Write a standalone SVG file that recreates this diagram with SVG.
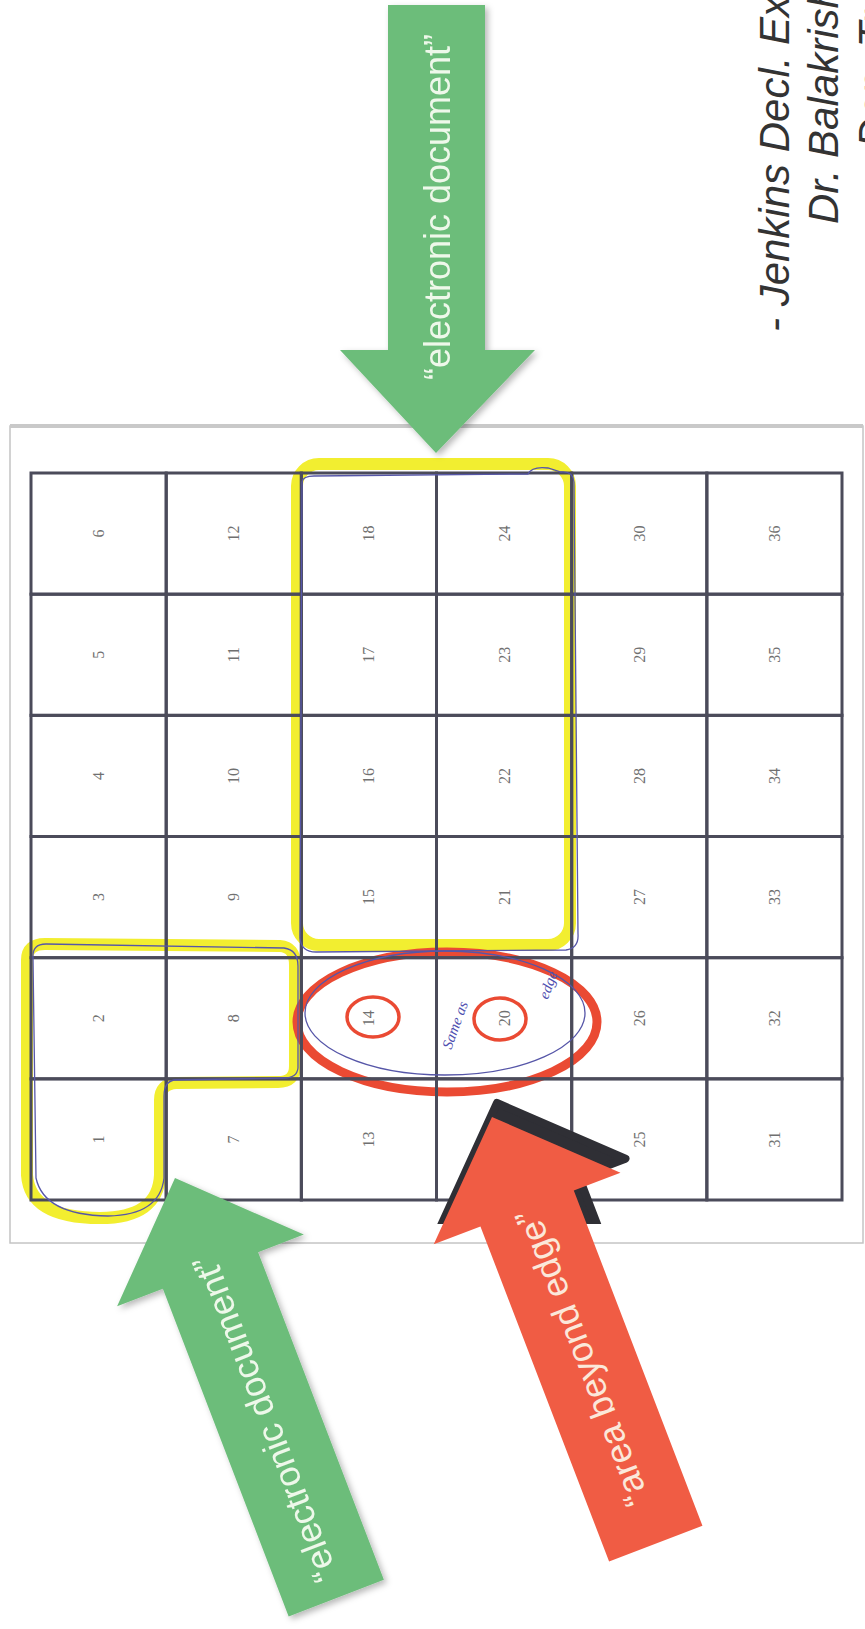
<svg xmlns="http://www.w3.org/2000/svg" width="865" height="1629" viewBox="0 0 865 1629">
<defs>
<style>
.cell{fill:none;stroke:#4b4b5a;stroke-width:3}
.num{font-family:"Liberation Serif",serif;font-size:16px;fill:#707070;text-anchor:middle}
.lbl{font-family:"Liberation Sans",Arial,sans-serif;font-size:36px;text-anchor:middle}
.hl{fill:none;stroke:#f2ee30;stroke-width:12;stroke-linejoin:round;stroke-linecap:round}
.pen{fill:none;stroke:#5656a8;stroke-width:1.3}
.ring{fill:none;stroke:#ea4a33}
.cite{font-family:"Liberation Sans",Arial,sans-serif;font-style:italic;font-size:42px;fill:#333}
.hand{font-family:"Liberation Serif",serif;font-style:italic;font-size:15px;fill:#4f4fb0;text-anchor:middle}
.green{fill:#6cbd7a}
.redA{fill:#f05c44}
</style>
<filter id="sh" x="-20%" y="-20%" width="140%" height="140%">
<feDropShadow dx="3" dy="3" stdDeviation="3" flood-color="#000" flood-opacity="0.28"/>
</filter>
<clipPath id="shClip"><rect x="0" y="0" width="865" height="1224"/></clipPath>
<path id="arrowG" d="M0,0 L100,99 L51,99 L51,450 L-51,450 L-51,99 L-100,99 Z"/>
<path id="arrowR" d="M0,0 L100,98 L50,98 L50,457 L-50,457 L-50,98 L-100,98 Z"/>
</defs>

<rect id="paper" x="10" y="426" width="853" height="817" fill="#fff" stroke="#c4c4c4" stroke-width="1.5"/>
<line x1="10" y1="426" x2="863" y2="426" stroke="#c9c9c9" stroke-width="4"/>

<g id="highlight-yellow-top">
<rect class="hl" x="297" y="464" width="273" height="481" rx="22"/>
</g>
<g id="highlight-yellow-L">
<path class="hl" d="M27,960 Q27,944 45,944 L280,946 Q295,947 295,965 L295,1066 Q295,1082 278,1082 L176,1083 Q160,1084 160,1100 L160,1175 Q158,1218 100,1218 Q30,1218 27,1175 Z"/>
</g>
<g id="ellipse-red">
<ellipse class="ring" cx="447" cy="1022" rx="150" ry="70" stroke-width="9"/>
</g>

<g id="grid">
<g id="c6"><rect class="cell" x="31" y="473" width="135.2" height="121.2"/><text class="num" x="98.6" y="539.1" transform="rotate(-90 98.6 533.6)">6</text></g>
<g id="c5"><rect class="cell" x="31" y="594.2" width="135.2" height="121.2"/><text class="num" x="98.6" y="660.3" transform="rotate(-90 98.6 654.8)">5</text></g>
<g id="c4"><rect class="cell" x="31" y="715.3" width="135.2" height="121.2"/><text class="num" x="98.6" y="781.4" transform="rotate(-90 98.6 775.9)">4</text></g>
<g id="c3"><rect class="cell" x="31" y="836.5" width="135.2" height="121.2"/><text class="num" x="98.6" y="902.6" transform="rotate(-90 98.6 897.1)">3</text></g>
<g id="c2"><rect class="cell" x="31" y="957.7" width="135.2" height="121.2"/><text class="num" x="98.6" y="1023.8" transform="rotate(-90 98.6 1018.3)">2</text></g>
<g id="c1"><rect class="cell" x="31" y="1078.8" width="135.2" height="121.2"/><text class="num" x="98.6" y="1144.9" transform="rotate(-90 98.6 1139.4)">1</text></g>

<g id="c12"><rect class="cell" x="166.2" y="473" width="135.2" height="121.2"/><text class="num" x="233.8" y="539.1" transform="rotate(-90 233.8 533.6)">12</text></g>
<g id="c11"><rect class="cell" x="166.2" y="594.2" width="135.2" height="121.2"/><text class="num" x="233.8" y="660.3" transform="rotate(-90 233.8 654.8)">11</text></g>
<g id="c10"><rect class="cell" x="166.2" y="715.3" width="135.2" height="121.2"/><text class="num" x="233.8" y="781.4" transform="rotate(-90 233.8 775.9)">10</text></g>
<g id="c9"><rect class="cell" x="166.2" y="836.5" width="135.2" height="121.2"/><text class="num" x="233.8" y="902.6" transform="rotate(-90 233.8 897.1)">9</text></g>
<g id="c8"><rect class="cell" x="166.2" y="957.7" width="135.2" height="121.2"/><text class="num" x="233.8" y="1023.8" transform="rotate(-90 233.8 1018.3)">8</text></g>
<g id="c7"><rect class="cell" x="166.2" y="1078.8" width="135.2" height="121.2"/><text class="num" x="233.8" y="1144.9" transform="rotate(-90 233.8 1139.4)">7</text></g>

<g id="c18"><rect class="cell" x="301.3" y="473" width="135.2" height="121.2"/><text class="num" x="368.9" y="539.1" transform="rotate(-90 368.9 533.6)">18</text></g>
<g id="c17"><rect class="cell" x="301.3" y="594.2" width="135.2" height="121.2"/><text class="num" x="368.9" y="660.3" transform="rotate(-90 368.9 654.8)">17</text></g>
<g id="c16"><rect class="cell" x="301.3" y="715.3" width="135.2" height="121.2"/><text class="num" x="368.9" y="781.4" transform="rotate(-90 368.9 775.9)">16</text></g>
<g id="c15"><rect class="cell" x="301.3" y="836.5" width="135.2" height="121.2"/><text class="num" x="368.9" y="902.6" transform="rotate(-90 368.9 897.1)">15</text></g>
<g id="c14"><rect class="cell" x="301.3" y="957.7" width="135.2" height="121.2"/><text class="num" x="368.9" y="1023.8" transform="rotate(-90 368.9 1018.3)">14</text></g>
<g id="c13"><rect class="cell" x="301.3" y="1078.8" width="135.2" height="121.2"/><text class="num" x="368.9" y="1144.9" transform="rotate(-90 368.9 1139.4)">13</text></g>

<g id="c24"><rect class="cell" x="436.5" y="473" width="135.2" height="121.2"/><text class="num" x="504.1" y="539.1" transform="rotate(-90 504.1 533.6)">24</text></g>
<g id="c23"><rect class="cell" x="436.5" y="594.2" width="135.2" height="121.2"/><text class="num" x="504.1" y="660.3" transform="rotate(-90 504.1 654.8)">23</text></g>
<g id="c22"><rect class="cell" x="436.5" y="715.3" width="135.2" height="121.2"/><text class="num" x="504.1" y="781.4" transform="rotate(-90 504.1 775.9)">22</text></g>
<g id="c21"><rect class="cell" x="436.5" y="836.5" width="135.2" height="121.2"/><text class="num" x="504.1" y="902.6" transform="rotate(-90 504.1 897.1)">21</text></g>
<g id="c20"><rect class="cell" x="436.5" y="957.7" width="135.2" height="121.2"/><text class="num" x="504.1" y="1023.8" transform="rotate(-90 504.1 1018.3)">20</text></g>
<g id="c19"><rect class="cell" x="436.5" y="1078.8" width="135.2" height="121.2"/></g>

<g id="c30"><rect class="cell" x="571.7" y="473" width="135.2" height="121.2"/><text class="num" x="639.3" y="539.1" transform="rotate(-90 639.3 533.6)">30</text></g>
<g id="c29"><rect class="cell" x="571.7" y="594.2" width="135.2" height="121.2"/><text class="num" x="639.3" y="660.3" transform="rotate(-90 639.3 654.8)">29</text></g>
<g id="c28"><rect class="cell" x="571.7" y="715.3" width="135.2" height="121.2"/><text class="num" x="639.3" y="781.4" transform="rotate(-90 639.3 775.9)">28</text></g>
<g id="c27"><rect class="cell" x="571.7" y="836.5" width="135.2" height="121.2"/><text class="num" x="639.3" y="902.6" transform="rotate(-90 639.3 897.1)">27</text></g>
<g id="c26"><rect class="cell" x="571.7" y="957.7" width="135.2" height="121.2"/><text class="num" x="639.3" y="1023.8" transform="rotate(-90 639.3 1018.3)">26</text></g>
<g id="c25"><rect class="cell" x="571.7" y="1078.8" width="135.2" height="121.2"/><text class="num" x="639.3" y="1144.9" transform="rotate(-90 639.3 1139.4)">25</text></g>

<g id="c36"><rect class="cell" x="706.8" y="473" width="135.2" height="121.2"/><text class="num" x="774.4" y="539.1" transform="rotate(-90 774.4 533.6)">36</text></g>
<g id="c35"><rect class="cell" x="706.8" y="594.2" width="135.2" height="121.2"/><text class="num" x="774.4" y="660.3" transform="rotate(-90 774.4 654.8)">35</text></g>
<g id="c34"><rect class="cell" x="706.8" y="715.3" width="135.2" height="121.2"/><text class="num" x="774.4" y="781.4" transform="rotate(-90 774.4 775.9)">34</text></g>
<g id="c33"><rect class="cell" x="706.8" y="836.5" width="135.2" height="121.2"/><text class="num" x="774.4" y="902.6" transform="rotate(-90 774.4 897.1)">33</text></g>
<g id="c32"><rect class="cell" x="706.8" y="957.7" width="135.2" height="121.2"/><text class="num" x="774.4" y="1023.8" transform="rotate(-90 774.4 1018.3)">32</text></g>
<g id="c31"><rect class="cell" x="706.8" y="1078.8" width="135.2" height="121.2"/><text class="num" x="774.4" y="1144.9" transform="rotate(-90 774.4 1139.4)">31</text></g>
</g>

<g id="pen-marks">
<path class="pen" d="M302,482 L300,938 Q301,952 316,952 L566,950 Q579,948 578,934 L574,482 Q573,471 561,472 L548,468 Q532,466 528,474 L314,476 Q303,476 302,482 Z"/>
<path class="pen" d="M33,958 Q32,944 46,944 L284,948 Q298,950 298,966 L298,1068 Q297,1078 284,1078 L174,1080 Q164,1082 164,1096 L164,1178 Q160,1215 108,1216 Q44,1215 36,1178 Z"/>
<ellipse class="pen" cx="445" cy="1013" rx="140" ry="62"/>
<text class="hand" x="455" y="1030" transform="rotate(-70 455 1025)">Same as</text>
<text class="hand" x="548" y="990" transform="rotate(-70 548 985)">edge</text>
</g>

<g id="circle-14"><ellipse class="ring" cx="373" cy="1017" rx="26" ry="20" stroke-width="3.5"/></g>
<g id="circle-20"><ellipse class="ring" cx="500" cy="1019" rx="26" ry="21" stroke-width="3.5"/></g>

<g id="arrow-top-green" filter="url(#sh)">
<path class="green" d="M388,5 L485,5 L485,350 L535,350 L436,453 L340,350 L388,350 Z"/>
<text class="lbl" x="0" y="0" fill="#eef8ea" transform="translate(450 207) rotate(-90)">“electronic document”</text>
</g>

<g id="arrow-red">
<g clip-path="url(#shClip)">
<use href="#arrowR" transform="translate(497 1103) rotate(-21)" fill="#2f2f35" stroke="#2f2f35" stroke-width="8" stroke-linejoin="round"/>
</g>
<g transform="translate(492 1117) rotate(-21)">
<use href="#arrowR" class="redA"/>
<text class="lbl" x="-257" y="10" fill="#fbe8da" transform="rotate(-90)">“area beyond edge”</text>
</g>
</g>

<g id="arrow-bottom-green" filter="url(#sh)">
<g transform="translate(175 1178) rotate(-21)">
<use href="#arrowG" class="green"/>
<text class="lbl" x="-257" y="10" fill="#eef8ea" transform="rotate(-90)">“electronic document”</text>
</g>
</g>

<g id="citation">
<text class="cite" transform="translate(789 332) rotate(-90)">- Jenkins Decl. Ex</text>
<text class="cite" transform="translate(838 224) rotate(-90)">Dr. Balakrish</text>
<text class="cite" transform="translate(888 148) rotate(-90)">Dep. Tr.</text>
</g>
</svg>
